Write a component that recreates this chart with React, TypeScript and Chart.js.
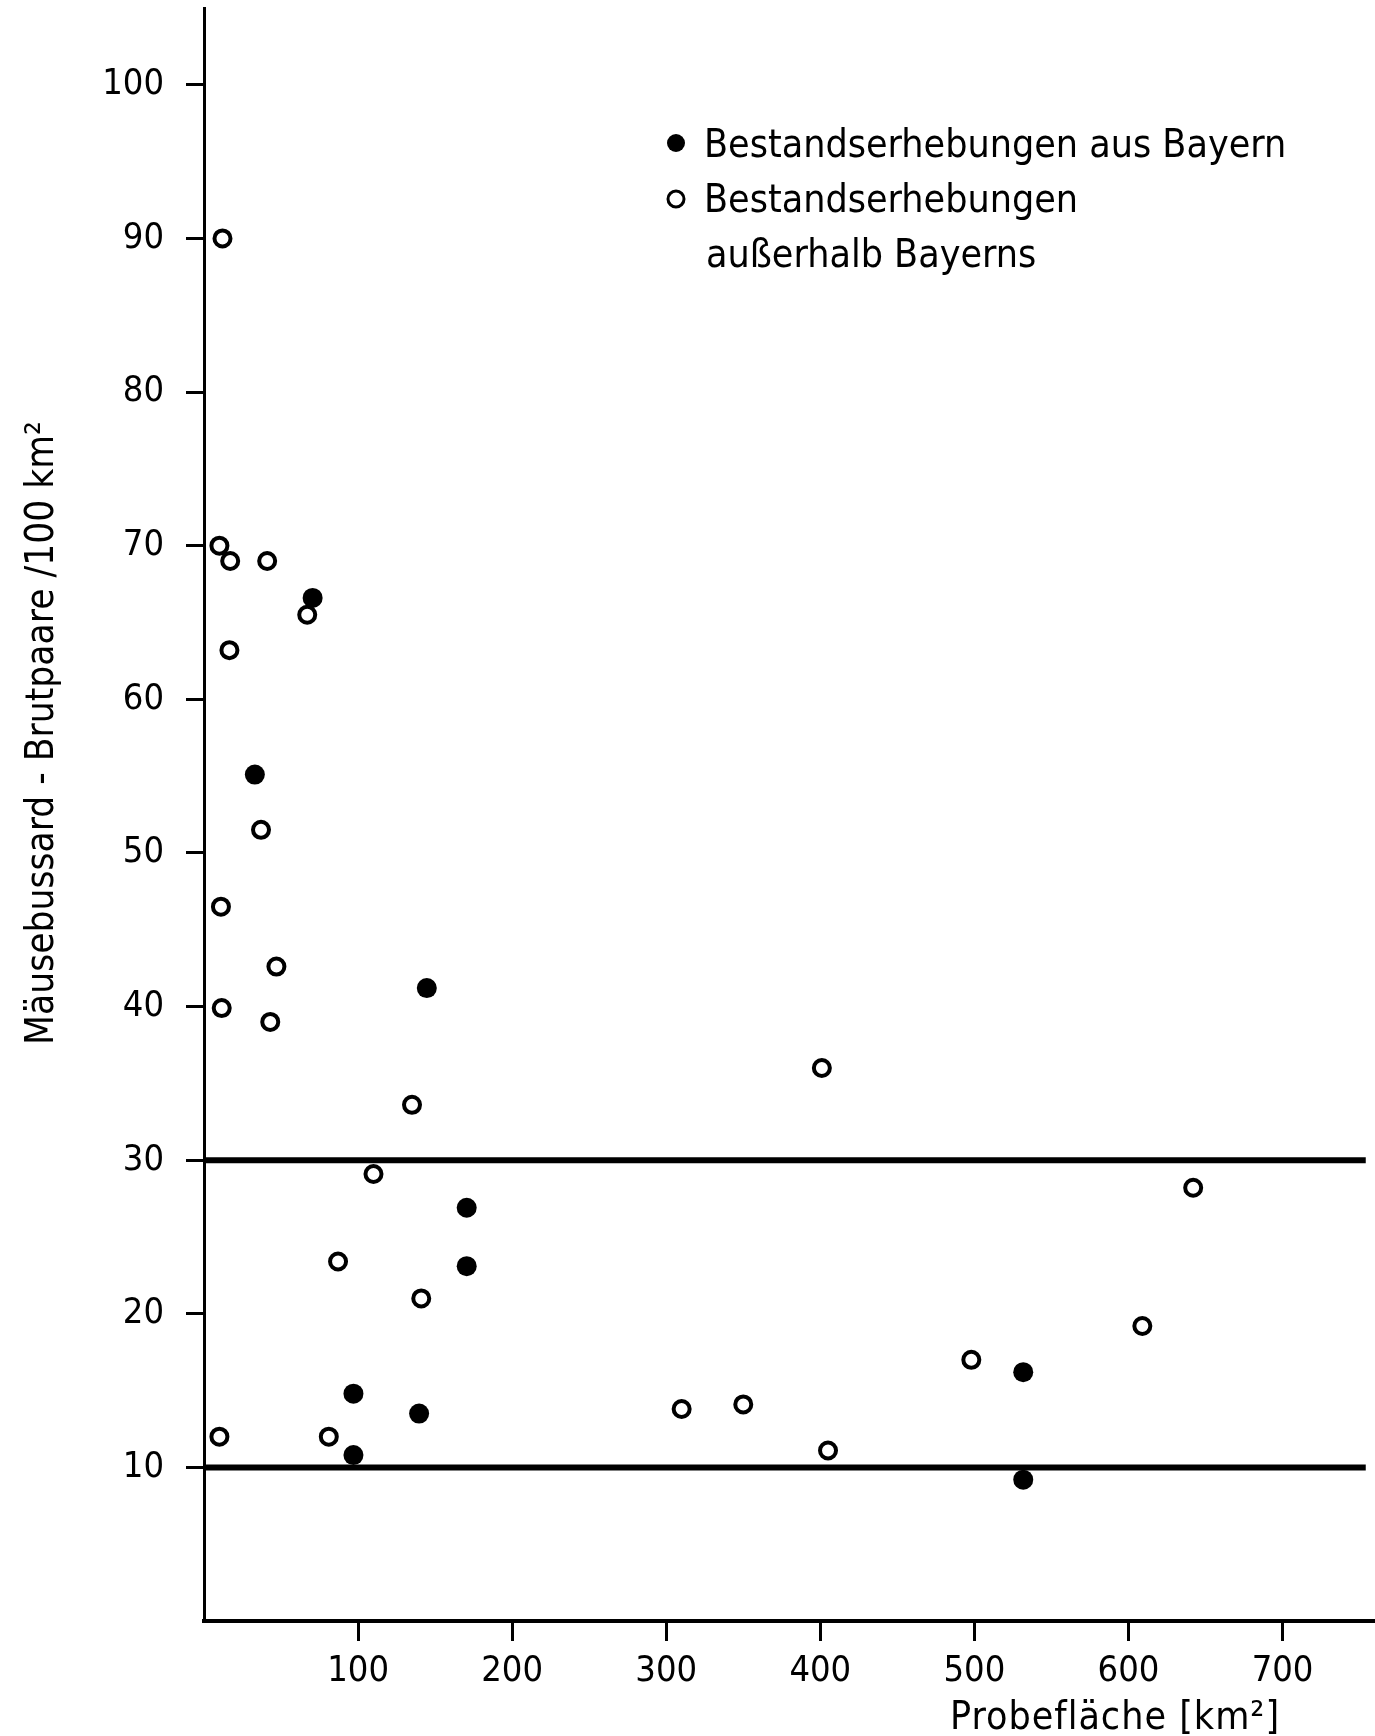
import React, { useEffect, useRef } from 'react';
import { Chart, registerables } from 'chart.js';

Chart.register(...registerables);

// ---- data ----
const xTickValues = [100, 200, 300, 400, 500, 600, 700];
const yTickValues = [10, 20, 30, 40, 50, 60, 70, 80, 90, 100];

// Bestandserhebungen aus Bayern (filled)
const bayernX = [70.5, 33, 144.6, 170.5, 170.5, 97, 139.6, 97, 531.7, 531.7];
const bayernY = [66.6, 55.1, 41.2, 26.9, 23.1, 14.8, 13.5, 10.8, 16.2, 9.2];

// Bestandserhebungen außerhalb Bayerns (open)
const outsideX = [12, 10, 17, 41, 67, 16.5, 37, 11, 47, 11.5, 43, 135, 401, 110, 87, 141, 642, 609, 498, 350, 310, 405, 10, 81];
const outsideY = [90, 70, 69, 69, 65.5, 63.2, 51.5, 46.5, 42.6, 39.9, 39, 33.6, 36, 29.1, 23.4, 21, 28.2, 19.2, 17, 14.1, 13.8, 11.1, 12, 12];

const refLevels = [30, 10];
const refLineStartX = 0;
const refLineEndX = 754;

const legendLabels = ['Bestandserhebungen aus Bayern', 'Bestandserhebungen', 'außerhalb Bayerns'];
const xTitle = 'Probefläche [km²]';
const yTitle = 'Mäusebussard - Brutpaare /100 km²';

const X_MIN = 0;
const X_MAX = 760;
const Y_MIN = 0;
const Y_MAX = 105;

const TEXT_FONT = "'DejaVu Sans Condensed', 'DejaVu Sans', sans-serif";
const NUM_FONT = "'DejaVu Sans Condensed', 'DejaVu Sans', sans-serif";

const W = 1375;
const H = 1736;

const annotPlugin = {
  id: 'annot',
  afterDraw(chart: any) {
    const ctx = chart.ctx as CanvasRenderingContext2D;
    const { left, top } = chart.chartArea;
    ctx.save();
    ctx.fillStyle = '#000';
    ctx.strokeStyle = '#000';
    ctx.font = `39px ${TEXT_FONT}`;
    ctx.textAlign = 'left';
    ctx.textBaseline = 'alphabetic';

    // legend
    const dotX = left + 472;
    ctx.beginPath();
    ctx.arc(dotX, top + 135, 9, 0, Math.PI * 2);
    ctx.fill();
    ctx.fillText(legendLabels[0], left + 500, top + 149);
    ctx.beginPath();
    ctx.lineWidth = 3;
    ctx.arc(dotX, top + 191, 8, 0, Math.PI * 2);
    ctx.stroke();
    ctx.fillText(legendLabels[1], left + 500, top + 204);
    ctx.fillText(legendLabels[2], left + 502, top + 259);

    // x title
    ctx.textAlign = 'center';
    (ctx as any).letterSpacing = '1px';
    ctx.fillText(xTitle, 1115, 1729);
    (ctx as any).letterSpacing = '0px';

    // y title
    ctx.font = `38.5px ${TEXT_FONT}`;
    ctx.translate(53, 733);
    ctx.rotate(-Math.PI / 2);
    ctx.textAlign = 'center';
    ctx.fillText(yTitle, 0, 0);
    ctx.restore();
  },
};

export default function App() {
  const ref = useRef<HTMLCanvasElement>(null);

  useEffect(() => {
    document.body.style.margin = '0';
    const canvas = ref.current;
    if (!canvas) return;

    const bayern = bayernX.map((x, i) => ({ x, y: bayernY[i] }));
    const outside = outsideX.map((x, i) => ({ x, y: outsideY[i] }));
    const refSets = refLevels.map((lv) => ({
      type: 'line' as const,
      label: `ref${lv}`,
      data: [
        { x: refLineStartX, y: lv },
        { x: refLineEndX, y: lv },
      ],
      borderColor: '#000',
      borderWidth: 6,
      pointRadius: 0,
      fill: false,
      tension: 0,
      order: 3,
    }));

    const chart = new Chart(canvas, {
      type: 'scatter',
      data: {
        datasets: [
          ...refSets,
          {
            label: legendLabels[1] + ' ' + legendLabels[2],
            data: outside,
            pointStyle: 'circle',
            pointRadius: 8,
            pointBorderWidth: 4,
            pointBorderColor: '#000',
            pointBackgroundColor: '#fff',
            order: 2,
          } as any,
          {
            label: legendLabels[0],
            data: bayern,
            pointStyle: 'circle',
            pointRadius: 10,
            pointBorderWidth: 0,
            pointBorderColor: '#000',
            pointBackgroundColor: '#000',
            order: 1,
          } as any,
        ],
      },
      options: {
        animation: false,
        responsive: false,
        devicePixelRatio: 1,
        layout: { autoPadding: false, padding: { top: 8, right: 0, left: 0, bottom: 0 } },
        plugins: {
          legend: { display: false },
          tooltip: { enabled: false },
        },
        scales: {
          x: {
            type: 'linear',
            min: X_MIN,
            max: X_MAX,
            afterFit: (s: any) => {
              s.height = H - 1621;
              s.paddingLeft = 0;
              s.paddingRight = 0;
            },
            afterBuildTicks: (s: any) => {
              s.ticks = xTickValues.map((v) => ({ value: v }));
            },
            border: { display: true, color: '#000', width: 4 },
            grid: {
              drawOnChartArea: false,
              drawTicks: true,
              tickLength: 20,
              color: '#000',
              lineWidth: 3,
            },
            ticks: {
              autoSkip: false,
              maxRotation: 0,
              color: '#000',
              padding: 9,
              font: { family: NUM_FONT, size: 36 },
              callback: (v: any) => String(v),
            },
          },
          y: {
            type: 'linear',
            min: Y_MIN,
            max: Y_MAX,
            afterFit: (s: any) => {
              s.width = 204;
              s.paddingTop = 0;
              s.paddingBottom = 0;
            },
            afterBuildTicks: (s: any) => {
              s.ticks = yTickValues.map((v) => ({ value: v }));
            },
            border: { display: true, color: '#000', width: 3 },
            grid: {
              drawOnChartArea: false,
              drawTicks: true,
              tickLength: 18,
              color: '#000',
              lineWidth: 3,
            },
            ticks: {
              autoSkip: false,
              color: '#000',
              padding: 22,
              font: { family: NUM_FONT, size: 36 },
              callback: (v: any) => String(v),
            },
          },
        },
      },
      plugins: [annotPlugin],
    } as any);

    return () => chart.destroy();
  }, []);

  return (
    <canvas
      ref={ref}
      width={W}
      height={H}
      style={{ display: 'block', width: W + 'px', height: H + 'px' }}
    />
  );
}
